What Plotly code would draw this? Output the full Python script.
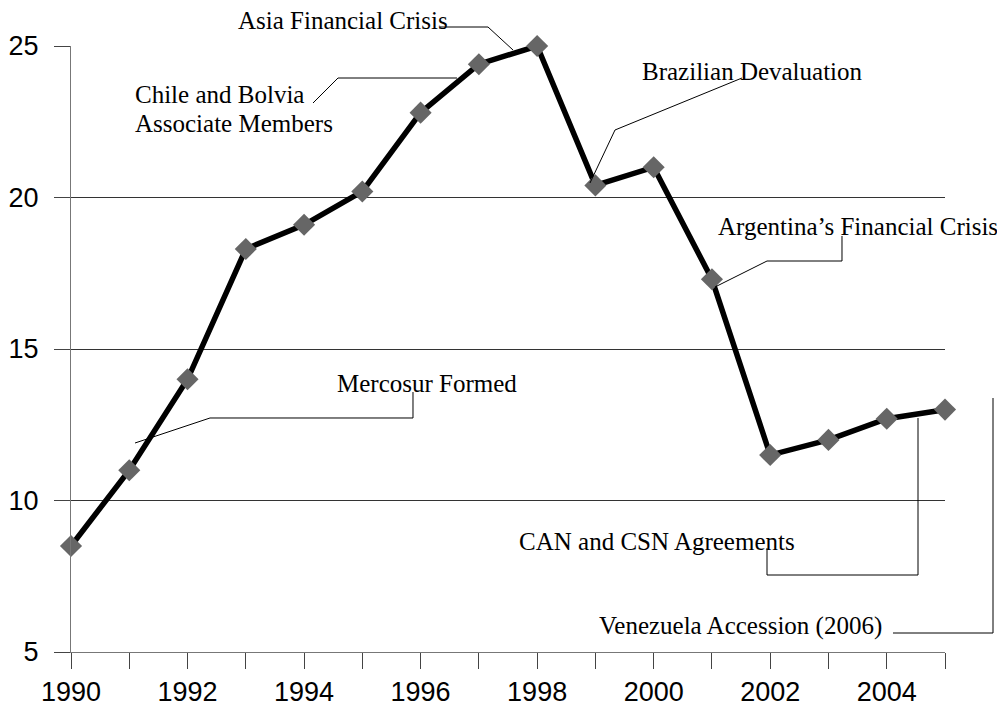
import plotly.graph_objects as go

# ---- data ----
years = list(range(1990, 2006))
values = [8.5, 11.0, 14.0, 18.3, 19.1, 20.2, 22.8, 24.4, 25.0, 20.4, 21.0, 17.3, 11.5, 12.0, 12.7, 13.0]
x_tickvals = [1990, 1992, 1994, 1996, 1998, 2000, 2002, 2004]
x_ticktext = ["1990", "1992", "1994", "1996", "1998", "2000", "2002", "2004"]
y_tickvals = [5, 10, 15, 20, 25]
y_ticktext = ["5", "10", "15", "20", "25"]

event_labels = [
    "Asia Financial Crisis",
    "Chile and Bolvia",
    "Associate Members",
    "Brazilian Devaluation",
    "Argentina\u2019s Financial Crisis",
    "Mercosur Formed",
    "CAN and CSN Agreements",
    "Venezuela Accession (2006)",
]

# ---- layout geometry (page pixels; page body has an 8px margin) ----
OFF = 8
W, H = 1005 - OFF, 713 - OFF
PLOT_L, PLOT_R, PLOT_T, PLOT_B = 71, 945, 46, 652   # page pixels
L, T = PLOT_L - OFF, PLOT_T - OFF
R, B = W - (PLOT_R - OFF), H - (PLOT_B - OFF)
PW, PH = PLOT_R - PLOT_L, PLOT_B - PLOT_T


def px(x):
    return (x - PLOT_L) / PW


def py(y):
    return (PLOT_B - y) / PH


# label placements: (text, x_px, y_px_center, xanchor)
label_pos = [
    (event_labels[0], 343, 21.0, "center"),
    (event_labels[1], 134, 94.6, "left"),
    (event_labels[2], 134, 123.6, "left"),
    (event_labels[3], 752, 71.6, "center"),
    (event_labels[4], 858, 226.6, "center"),
    (event_labels[5], 427, 383.6, "center"),
    (event_labels[6], 657, 541.6, "center"),
    (event_labels[7], 740, 625.6, "center"),
]

connectors = [
    [(440, 27), (488, 27), (513, 50)],
    [(313, 103), (338, 78), (457, 78)],
    [(742, 78), (615, 130), (590, 183)],
    [(842, 236), (842, 261), (767, 261), (715, 287)],
    [(413, 392), (413, 418), (210, 418), (135, 443)],
    [(767, 548), (767, 575), (918, 575), (918, 418)],
    [(893, 633), (993, 633), (993, 398)],
]

fig = go.Figure()
fig.add_trace(go.Scatter(
    x=years, y=values, mode="lines+markers",
    line=dict(color="black", width=5.5),
    marker=dict(symbol="diamond", size=17, color="#666666", line=dict(width=0)),
    cliponaxis=False, showlegend=False, hoverinfo="x+y",
))

shapes = []
for pts in connectors:
    path = "M " + " L ".join(f"{px(a):.5f},{py(b):.5f}" for a, b in pts)
    shapes.append(dict(type="path", xref="paper", yref="paper", path=path,
                       line=dict(color="black", width=1), layer="above"))

annotations = []
for text, x, y, anchor in label_pos:
    annotations.append(dict(
        text=text, x=px(x), y=py(y), xref="paper", yref="paper",
        xanchor=anchor, yanchor="middle", showarrow=False, borderpad=0,
        font=dict(family="Liberation Serif, Times New Roman, serif", size=25, color="black"),
    ))

tick_font = dict(family="Liberation Sans, Arial, sans-serif", size=27, color="black")

fig.update_layout(
    width=W, height=H,
    margin=dict(l=L, r=R, t=T, b=B, autoexpand=False),
    paper_bgcolor="white", plot_bgcolor="white",
    shapes=shapes, annotations=annotations,
    font=dict(family="Liberation Sans, Arial, sans-serif", size=24, color="black"),
    xaxis=dict(
        range=[1990, 2005], tickvals=x_tickvals, ticktext=x_ticktext,
        ticks="outside", ticklen=16, tickcolor="#444444", tickwidth=1,
        minor=dict(dtick=1, tick0=1990, ticks="outside", ticklen=16, tickcolor="#444444", tickwidth=1, showgrid=False),
        showgrid=False, zeroline=False, showline=True, linecolor="#777777", linewidth=1,
        ticklabelstandoff=0, automargin=False,
        tickfont=tick_font,
    ),
    yaxis=dict(
        range=[5, 25], tickvals=y_tickvals, ticktext=y_ticktext,
        ticks="outside", ticklen=16, tickcolor="#444444", tickwidth=1,
        showgrid=True, gridcolor="#333333", gridwidth=1,
        zeroline=False, showline=True, linecolor="#777777", linewidth=1,
        ticklabelstandoff=10, automargin=False,
        tickfont=tick_font,
    ),
)

fig.write_html("out.html")
